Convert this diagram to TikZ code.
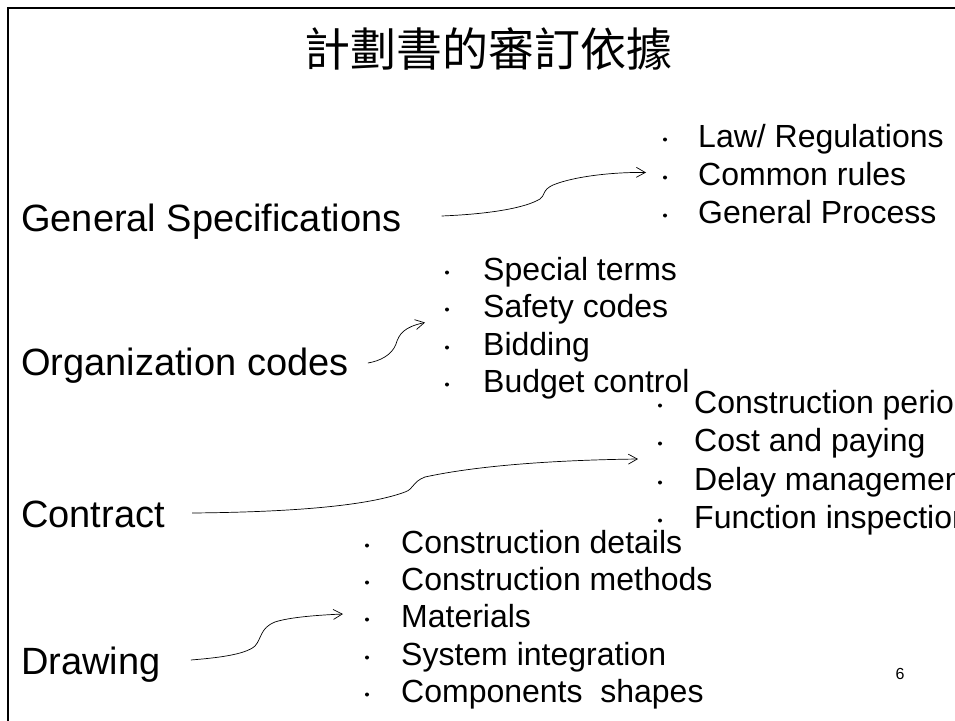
\documentclass[tikz,border=0pt]{standalone}
\usepackage{fontspec}
\setmainfont{Liberation Sans}
\newfontfamily\cjk{Noto Sans CJK TC}
\usetikzlibrary{arrows.meta}
\tikzset{
  lbl/.style={anchor=base west, inner sep=0pt, font=\fontsize{38}{38}\selectfont},
  item/.style={anchor=base west, inner sep=0pt, font=\fontsize{32}{32}\selectfont},
  dot/.style={circle, fill=black, inner sep=0pt, minimum size=4pt},
  link/.style={line width=0.7pt, -{Straight Barb[length=9pt,width=10pt]}}
}
\begin{document}
\begin{tikzpicture}[x=1pt,y=-1pt]
\useasboundingbox (0,0) rectangle (955,720);
% frame
\draw[line width=2.5pt] (8,725) -- (8,8) -- (962,8);
\node[anchor=base, inner sep=0pt, font=\cjk\fontsize{46}{46}\selectfont] (title) at (488,66) {計劃書的審訂依據};
% left labels
\node[lbl] (gs) at (21,231) {General Specifications};
\node[lbl] (org) at (21,375) {Organization codes};
\node[lbl] (con) at (21,527) {Contract};
\node[lbl] (drw) at (21,674) {Drawing};
% lists
\node[item] (law) at (698,147) {Law/ Regulations};
\node[item] (rules) at (698,185) {Common rules};
\node[item] (proc) at (698,223) {General Process};
\foreach \y in {147,185,223} \node[dot] at (665,\y-7.5) {};
\node[item] (terms) at (483,280) {Special terms};
\node[item] (safety) at (483,317) {Safety codes};
\node[item] (bid) at (483,355) {Bidding};
\node[item] (budget) at (483,392) {Budget control};
\foreach \y in {280,317,355,392} \node[dot] at (447,\y-7.5) {};
\node[item] (period) at (694,413) {Construction period};
\node[item] (cost) at (694,451) {Cost and paying};
\node[item] (delay) at (694,490) {Delay management};
\node[item] (func) at (694,528) {Function inspection};
\foreach \y in {413,451,490,528} \node[dot] at (660,\y-7.5) {};
\node[item] (details) at (401,553) {Construction details};
\node[item] (methods) at (401,590) {Construction methods};
\node[item] (mat) at (401,627) {Materials};
\node[item] (sys) at (401,665) {System integration};
\node[item] (comp) at (401,702) {Components~~shapes};
\foreach \y in {553,590,627,665,702} \node[dot] at (367,\y-7.5) {};
\node[anchor=base, inner sep=0pt, font=\fontsize{16}{16}\selectfont] (page) at (900,679) {6};
% arrows
\coordinate (gsTip) at (646,172.5);
\coordinate (orgTip) at (425,322.5);
\coordinate (conTip) at (638,459);
\coordinate (drwTip) at (343,614);
\draw[link] ([xshift=40pt,yshift=15pt]gs.base east) .. controls (490,214) and (525,208) .. (540,199) .. controls (545,196) and (542,190) .. (553,185) .. controls (575,176) and (615,172) .. (gsTip);
\draw[link] ([xshift=19pt,yshift=12pt]org.base east) .. controls (380,361) and (392,355) .. (396,344) .. controls (399,334) and (404,327) .. (orgTip);
\draw[link] ([xshift=27pt,yshift=14pt]con.base east) .. controls (300,512) and (370,505) .. (405,492) .. controls (414,489) and (412,482) .. (425,477) .. controls (480,465) and (560,460) .. (conTip);
\draw[link] ([xshift=30pt,yshift=14pt]drw.base east) .. controls (215,658) and (245,655) .. (255,646) .. controls (262,638) and (260,628) .. (275,622) .. controls (290,617) and (320,615) .. (drwTip);
\end{tikzpicture}
\end{document}
